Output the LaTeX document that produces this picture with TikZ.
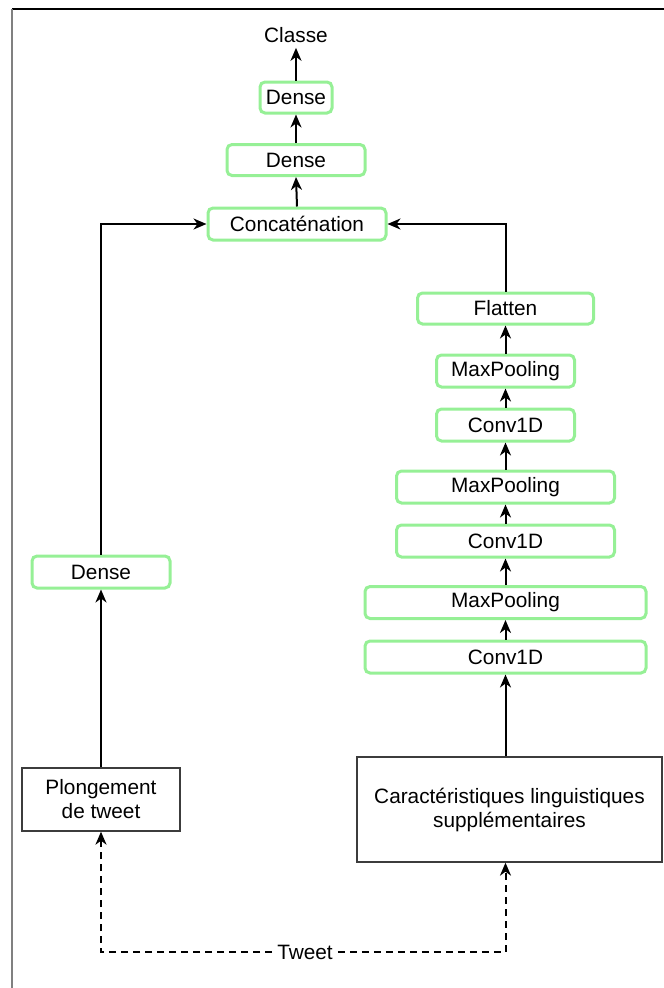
\documentclass[tikz,border=0pt]{standalone}
\usepackage{fontspec}
\setmainfont{Liberation Sans}
\usetikzlibrary{arrows.meta}
\definecolor{lgreen}{RGB}{150,240,150}
\definecolor{bgray}{RGB}{60,60,60}
\begin{document}
\begin{tikzpicture}[x=1pt,y=-1pt,
  every node/.style={font=\fontsize{20.8}{24}\selectfont, inner sep=0pt},
  layer/.style={draw=lgreen, line width=3pt, rounded corners=5pt, fill=white},
  plain/.style={draw=bgray, line width=1.3pt, fill=white, align=center},
  arr/.style={line width=2pt, -{Stealth[length=13pt,width=11pt,inset=4pt]}},
  darr/.style={arr, dash pattern=on 7pt off 5pt}
]
\useasboundingbox (0,0) rectangle (664,988);
\draw[line width=1.5pt] (12,9) -- (664,9);
\draw[gray, line width=2pt] (12,9) -- (12,988);

\node (classe) at (296,35) {Classe};
\node[layer, minimum width=72pt, minimum height=31pt] (dense1) at (296,97.5) {Dense};
\node[layer, minimum width=138pt, minimum height=31pt] (dense2) at (296,160) {Dense};
\node[layer, minimum width=178pt, minimum height=32pt] (concat) at (297,224) {Concaténation};

\node[layer, minimum width=176pt, minimum height=31pt] (flatten) at (505.5,308.5) {Flatten};
\node[layer, minimum width=138pt, minimum height=32pt] (mp1) at (505.5,371) {MaxPooling};
\node[layer, minimum width=138pt, minimum height=32pt] (c1) at (505.5,425) {Conv1D};
\node[layer, minimum width=218pt, minimum height=32pt] (mp2) at (505.5,487) {MaxPooling};
\node[layer, minimum width=218pt, minimum height=32pt] (c2) at (505.5,541) {Conv1D};
\node[layer, minimum width=281pt, minimum height=32pt] (mp3) at (505.5,602.5) {MaxPooling};
\node[layer, minimum width=281pt, minimum height=32pt] (c3) at (505.5,657) {Conv1D};

\node[layer, minimum width=138pt, minimum height=32pt] (ldense) at (101,572) {Dense};
\node[plain, minimum width=158pt, minimum height=63pt] (plong) at (101,799.5) {Plongement\\de tweet};
\node[plain, minimum width=305pt, minimum height=105pt] (carac) at (509.5,809.5) {Caractéristiques linguistiques\\supplémentaires};

\node[fill=white, inner xsep=5pt] (tweet) at (305,952) {Tweet};

\draw[arr] (dense1.north) -- ([yshift=-5pt]classe.south);
\draw[arr] (dense2.north) -- (dense1.south);
\draw[arr] (concat.north) -- (dense2.south);
\draw[arr] (ldense.north) |- (concat.west);
\draw[arr] (flatten.north) |- (concat.east);
\draw[arr] (mp1.north) -- (flatten.south);
\draw[arr] (c1.north) -- (mp1.south);
\draw[arr] (mp2.north) -- (c1.south);
\draw[arr] (c2.north) -- (mp2.south);
\draw[arr] (mp3.north) -- (c2.south);
\draw[arr] (c3.north) -- (mp3.south);
\draw[arr] (carac.north -| c3.south) -- (c3.south);
\draw[arr] (plong.north) -- (ldense.south);
\draw[darr] (tweet.west) -| (plong.south);
\draw[darr] (tweet.east) -| (carac.south -| c3.south);
\end{tikzpicture}
\end{document}
